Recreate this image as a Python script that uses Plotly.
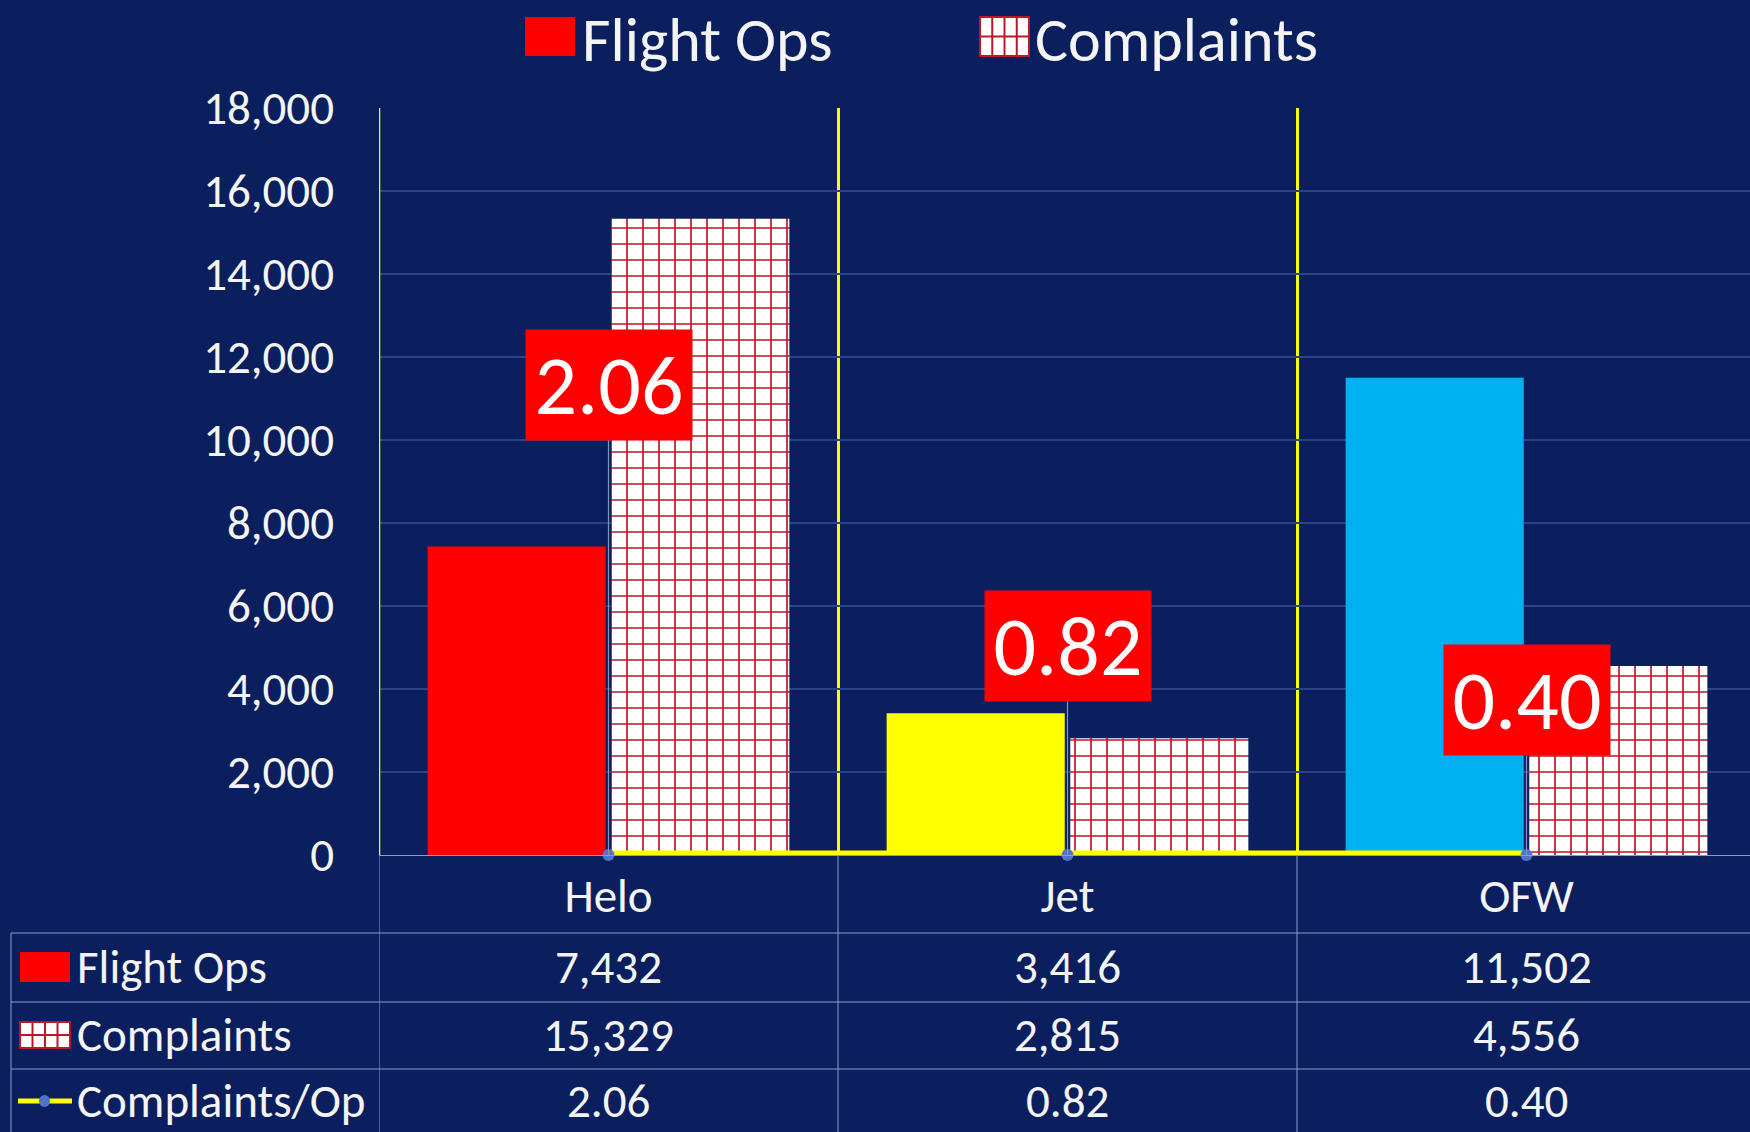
import plotly.graph_objects as go

# ---------------- data ----------------
categories = ["Helo", "Jet", "OFW"]
flight_ops = [7432, 3416, 11502]
complaints = [15329, 2815, 4556]
complaints_per_op = [2.06, 0.82, 0.40]
y_tick_values = [0, 2000, 4000, 6000, 8000, 10000, 12000, 14000, 16000, 18000]
series_names = ["Flight Ops", "Complaints", "Complaints/Op"]

# ---------------- styling ----------------
FONT = "Carlito, Calibri, Lato, sans-serif"
BG = "#0B1F5F"
GRID = "#2A4585"
TABLE_LINE = "#8C9CCB"
TEXT = "#F4F4F4"
YELLOW = "#FFFF00"
OPS_COLORS = ["#FF0000", "#FFFF00", "#00B0F0"]
HATCH_RED = "#B8182A"
MARKER_BLUE = "#4F74C8"
LABEL_DY = [-470, -209, -155]   # pixel offsets of the ratio label boxes
TXT_SIZE = 47

W, H = 1750, 1132
ML, MT, MB, MR = 379, 108, 277, 0
PW = W - ML - MR
PH = H - MT - MB
CAT_W = 459


def px_x(px):
    return (px - ML) / PW


def px_y(py):
    return (H - MB - py) / PH


fig = go.Figure()

fig.add_trace(go.Bar(
    x=categories, y=flight_ops, name=series_names[0],
    marker=dict(color=OPS_COLORS, line=dict(width=0)),
    showlegend=False, hoverinfo="x+y+name",
))
fig.add_trace(go.Bar(
    x=categories, y=complaints, name=series_names[1],
    marker=dict(color="white", line=dict(width=0),
                pattern=dict(shape="+", fgcolor=HATCH_RED, bgcolor="white",
                             size=16, solidity=0.2, fillmode="replace")),
    showlegend=False, hoverinfo="x+y+name",
))
fig.add_trace(go.Scatter(
    x=categories, y=complaints_per_op, name=series_names[2],
    mode="lines+markers",
    line=dict(color=YELLOW, width=9),
    marker=dict(color=MARKER_BLUE, size=12),
    cliponaxis=False, showlegend=False,
))

annotations = []
shapes = []

# left yellow boundary line of the plot
shapes.append(dict(type="line", xref="x", yref="paper", x0=-0.5, x1=-0.5, y0=0, y1=1,
                   line=dict(width=2.5, color=YELLOW)))

# ratio labels
for i, (c, r) in enumerate(zip(categories, complaints_per_op)):
    annotations.append(dict(
        x=c, y=r, xref="x", yref="y", text=f"{r:.2f}",
        showarrow=True, arrowhead=0, arrowwidth=1.2, arrowcolor="#8393BF",
        ax=0, ay=LABEL_DY[i], bgcolor="#FF0000", borderpad=4,
        width=158, height=102,
        font=dict(family=FONT, size=84, color="white"),
    ))


def checker(x0, y0, x1, y1, ncols=4, nrows=2):
    out = [dict(type="rect", xref="paper", yref="paper",
                x0=px_x(x0), x1=px_x(x1), y0=px_y(y1), y1=px_y(y0),
                fillcolor="white", line=dict(width=2, color=HATCH_RED))]
    for k in range(1, ncols):
        xx = x0 + (x1 - x0) * k / ncols
        out.append(dict(type="line", xref="paper", yref="paper",
                        x0=px_x(xx), x1=px_x(xx), y0=px_y(y1), y1=px_y(y0),
                        line=dict(width=2, color=HATCH_RED)))
    for k in range(1, nrows):
        yy = y0 + (y1 - y0) * k / nrows
        out.append(dict(type="line", xref="paper", yref="paper",
                        x0=px_x(x0), x1=px_x(x1), y0=px_y(yy), y1=px_y(yy),
                        line=dict(width=2, color=HATCH_RED)))
    return out


# ---------------- top legend ----------------
shapes.append(dict(type="rect", xref="paper", yref="paper",
                   x0=px_x(525), x1=px_x(575), y0=px_y(56), y1=px_y(17),
                   fillcolor=OPS_COLORS[0], line=dict(width=0)))
shapes += checker(980, 17, 1029, 56)
annotations.append(dict(x=px_x(580), y=px_y(40), xref="paper", yref="paper",
                        text=series_names[0], showarrow=False, xanchor="left",
                        yanchor="middle", font=dict(family=FONT, size=62, color=TEXT)))
annotations.append(dict(x=px_x(1033), y=px_y(40), xref="paper", yref="paper",
                        text=series_names[1], showarrow=False, xanchor="left",
                        yanchor="middle", font=dict(family=FONT, size=62, color=TEXT)))

# ---------------- data table ----------------
row_lines = [933, 1002, 1069]
row_centers = [967, 1035, 1101]
for yl in row_lines:
    shapes.append(dict(type="line", xref="paper", yref="paper",
                       x0=px_x(11), x1=1, y0=px_y(yl), y1=px_y(yl),
                       line=dict(width=1, color=TABLE_LINE)))
for b in [-0.5, 0.5, 1.5]:
    shapes.append(dict(type="line", xref="x", yref="paper",
                       x0=b, x1=b, y0=0, y1=px_y(H),
                       line=dict(width=1, color=TABLE_LINE)))
shapes.append(dict(type="line", xref="paper", yref="paper",
                   x0=px_x(11), x1=px_x(11), y0=px_y(row_lines[0]), y1=px_y(H),
                   line=dict(width=1, color=TABLE_LINE)))

# row keys
shapes.append(dict(type="rect", xref="paper", yref="paper",
                   x0=px_x(20), x1=px_x(70), y0=px_y(row_centers[0] + 15),
                   y1=px_y(row_centers[0] - 15),
                   fillcolor=OPS_COLORS[0], line=dict(width=0)))
shapes += checker(20, row_centers[1] - 13, 70, row_centers[1] + 13)
shapes.append(dict(type="line", xref="paper", yref="paper",
                   x0=px_x(18), x1=px_x(72), y0=px_y(row_centers[2]), y1=px_y(row_centers[2]),
                   line=dict(width=5, color=YELLOW)))
shapes.append(dict(type="circle", xref="paper", yref="paper",
                   x0=px_x(39), x1=px_x(50), y0=px_y(row_centers[2] + 6),
                   y1=px_y(row_centers[2] - 6),
                   fillcolor=MARKER_BLUE, line=dict(width=0)))

row_values = [
    [f"{v:,}" for v in flight_ops],
    [f"{v:,}" for v in complaints],
    [f"{v:.2f}" for v in complaints_per_op],
]
for name, vals, yc in zip(series_names, row_values, row_centers):
    annotations.append(dict(x=px_x(75), y=px_y(yc), xref="paper", yref="paper",
                            text=name, showarrow=False, xanchor="left", yanchor="middle",
                            font=dict(family=FONT, size=TXT_SIZE, color=TEXT)))
    for c, v in zip(categories, vals):
        annotations.append(dict(x=c, y=px_y(yc), xref="x", yref="paper",
                                text=v, showarrow=False, xanchor="center", yanchor="middle",
                                font=dict(family=FONT, size=TXT_SIZE, color=TEXT)))

fig.update_layout(
    width=W, height=H,
    margin=dict(l=ML, r=MR, t=MT, b=MB, pad=0),
    paper_bgcolor=BG, plot_bgcolor=BG,
    barmode="group", bargap=0.2, bargroupgap=0.03,
    font=dict(family=FONT, color=TEXT),
    showlegend=False,
    xaxis=dict(
        type="category", categoryorder="array", categoryarray=categories,
        range=[-0.5, -0.5 + PW / CAT_W],
        tickson="boundaries", showgrid=True, gridcolor=YELLOW, gridwidth=2.5,
        ticks="", tickfont=dict(family=FONT, size=TXT_SIZE, color=TEXT),
        ticklabelstandoff=0,
        showline=True, linecolor=TABLE_LINE, linewidth=1,
        zeroline=False, fixedrange=True,
    ),
    yaxis=dict(
        range=[0, 18000], tickvals=y_tick_values, tickformat=",",
        showgrid=True, gridcolor=GRID, gridwidth=1.5,
        ticks="", tickfont=dict(family=FONT, size=TXT_SIZE, color=TEXT),
        ticklabelstandoff=44,
        zeroline=False, showline=False, fixedrange=True,
    ),
    annotations=annotations,
    shapes=shapes,
)

fig.write_html(
    "out.html",
    config={"displayModeBar": False},
    post_script="document.body.style.margin='0';document.body.style.overflow='hidden';"
                "document.body.style.background='" + BG + "';",
)
